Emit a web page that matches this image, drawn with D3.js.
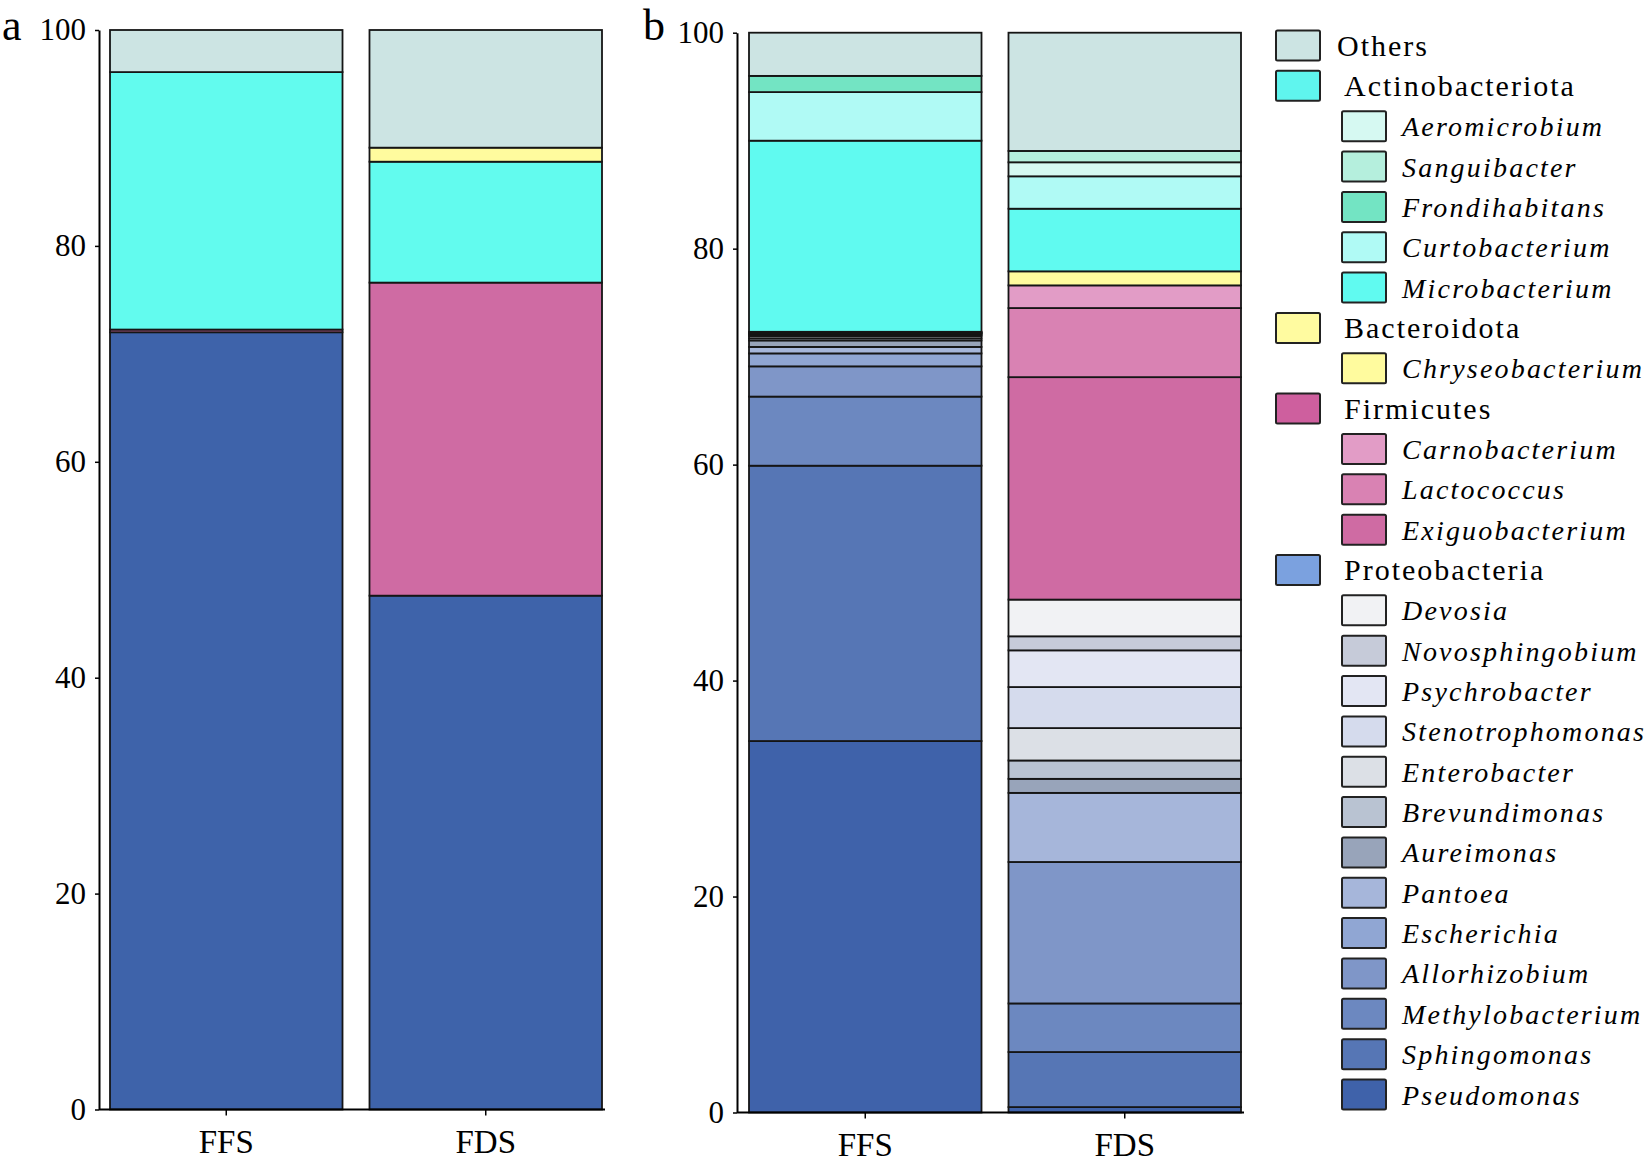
<!DOCTYPE html>
<html>
<head>
<meta charset="utf-8">
<script src="https://cdn.jsdelivr.net/npm/d3@7"></script>
<style>
  html, body { margin: 0; padding: 0; background: #fff; }
  svg { display: block; font-family: "Liberation Serif", "Times New Roman", serif; }
</style>
</head>
<body>
<svg id="chart" width="1652" height="1164"></svg>
<script>
// ---------------- DATA ----------------
const samples = ["FFS", "FDS"];
const yTicks = [0, 20, 40, 60, 80, 100];

// Panel a: phylum level, stacked bottom -> top
const phyla = ["Proteobacteria", "Firmicutes", "Actinobacteriota", "Bacteroidota", "Others"];
const phylumFFS = [72.0, 0.25, 23.85, 0, 3.9];
const phylumFDS = [47.6, 29.0, 11.2, 1.3, 10.9];
const phylumBarColors = ["#3E63AA", "#CF6BA3", "#62FBEE", "#FFFB9E", "#CCE4E3"];

// Panel b: genus level, stacked bottom -> top
const genera = ["Pseudomonas", "Sphingomonas", "Methylobacterium", "Allorhizobium", "Escherichia",
  "Pantoea", "Aureimonas", "Brevundimonas", "Enterobacter", "Stenotrophomonas", "Psychrobacter",
  "Novosphingobium", "Devosia", "Exiguobacterium", "Lactococcus", "Carnobacterium",
  "Chryseobacterium", "Microbacterium", "Curtobacterium", "Frondihabitans", "Aeromicrobium",
  "Sanguibacter", "Others"];
const genusFFS = [34.4, 25.5, 6.4, 2.8, 1.2, 0.6, 0.6, 0.2, 0.2, 0.1, 0.1, 0.05, 0.05,
  0.05, 0.05, 0, 0, 17.7, 4.5, 1.5, 0, 0, 4.0];
const genusFDS = [0.5, 5.1, 4.5, 13.1, 0, 6.4, 1.3, 1.7, 3.0, 3.8, 3.4, 1.3, 3.4,
  20.6, 6.4, 2.1, 1.3, 5.8, 3.0, 0, 1.3, 1.05, 10.95];
const genusColors = ["#3F62AA", "#5676B5", "#6C88C0", "#7F96C8", "#90A6D3",
  "#A6B6DA", "#98A4BA", "#B9C3D2", "#DCE0E6", "#D5DBED", "#E3E6F3",
  "#C6CBD9", "#F1F2F4", "#CF6BA3", "#D982B3", "#E29CC6",
  "#FFFB9E", "#60FAF0", "#B0FAF5", "#73E4C3", "#D6F9F2",
  "#B5EFDD", "#CCE4E3"];

// Legend (top -> bottom)
const legendItems = ["Others", "Actinobacteriota", "Aeromicrobium", "Sanguibacter", "Frondihabitans",
  "Curtobacterium", "Microbacterium", "Bacteroidota", "Chryseobacterium", "Firmicutes",
  "Carnobacterium", "Lactococcus", "Exiguobacterium", "Proteobacteria", "Devosia",
  "Novosphingobium", "Psychrobacter", "Stenotrophomonas", "Enterobacter", "Brevundimonas",
  "Aureimonas", "Pantoea", "Escherichia", "Allorhizobium", "Methylobacterium",
  "Sphingomonas", "Pseudomonas"];
const legendPhyla = ["Others", "Actinobacteriota", "Bacteroidota", "Firmicutes", "Proteobacteria"];
const legendPhylumColors = ["#CCE4E3", "#5FF5EE", "#FFFBA0", "#CE5F9E", "#7BA1DF"];

// ---------------- DRAW ----------------
const svg = d3.select("#chart");
const STROKE = "#151515";

function drawPanel(cfg, keys, ffs, fds, colors) {
  const g = svg.append("g");
  const rows = samples.map((s, i) => {
    const vals = i === 0 ? ffs : fds;
    const r = { sample: s };
    keys.forEach((k, j) => r[k] = vals[j]);
    return r;
  });
  const x = d3.scaleBand().domain(samples).range([cfg.x0, cfg.x1]).paddingInner(0.104).paddingOuter(0);
  const y = d3.scaleLinear().domain([0, 100]).range([cfg.yBot, cfg.yTop]);
  const color = d3.scaleOrdinal().domain(keys).range(colors);
  const series = d3.stack().keys(keys)(rows);

  series.forEach(layer => {
    g.append("g").selectAll("rect")
      .data(layer.filter(d => d[1] - d[0] > 0))
      .join("rect")
      .attr("x", d => x(d.data.sample))
      .attr("width", x.bandwidth())
      .attr("y", d => y(d[1]))
      .attr("height", d => y(d[0]) - y(d[1]))
      .attr("fill", color(layer.key))
      .attr("stroke", STROKE)
      .attr("stroke-width", 1.8);
  });

  // y axis
  const ya = g.append("g")
    .attr("transform", `translate(${cfg.axisX},0)`)
    .call(d3.axisLeft(y).tickValues(yTicks).tickSize(4).tickSizeOuter(0).tickPadding(9));
  ya.select(".domain").attr("stroke", "#000").attr("stroke-width", 2);
  ya.selectAll(".tick line").attr("stroke", "#000").attr("stroke-width", 1.5);
  ya.selectAll("text").attr("font-size", 31).attr("font-family", "Liberation Serif").attr("fill", "#000");

  // x axis
  const xa = g.append("g")
    .attr("transform", `translate(0,${cfg.yBot})`)
    .call(d3.axisBottom(x).tickSize(6).tickSizeOuter(0).tickPadding(14));
  xa.select(".domain").remove();
  xa.append("line").attr("x1", cfg.axisX).attr("x2", cfg.x1 + 3).attr("y1", 0).attr("y2", 0)
    .attr("stroke", "#000").attr("stroke-width", 2);
  xa.selectAll(".tick line").attr("stroke", "#000").attr("stroke-width", 1.5);
  xa.selectAll("text").attr("font-size", 33).attr("font-family", "Liberation Serif").attr("fill", "#000");

  svg.append("text").attr("x", cfg.labelX).attr("y", cfg.labelY)
    .attr("font-size", 44).attr("font-family", "Liberation Serif").text(cfg.label);
}

drawPanel({ x0: 110, x1: 602, yTop: 30, yBot: 1109.5, axisX: 99, label: "a", labelX: 2, labelY: 40 },
  phyla, phylumFFS, phylumFDS, phylumBarColors);
drawPanel({ x0: 749, x1: 1241, yTop: 32.7, yBot: 1112.5, axisX: 737, label: "b", labelX: 643, labelY: 40 },
  genera, genusFFS, genusFDS, genusColors);

// legend
const ly = d3.scalePoint().domain(legendItems).range([45.5, 1094.5]);
const genusColor = d3.scaleOrdinal().domain(genera).range(genusColors);
const phylumLegendColor = d3.scaleOrdinal().domain(legendPhyla).range(legendPhylumColors);
const lg = svg.append("g");
legendItems.forEach(name => {
  const isPhylum = legendPhyla.includes(name);
  const bx = isPhylum ? 1276 : 1342;
  const cy = ly(name);
  lg.append("rect")
    .attr("x", bx).attr("y", cy - 15).attr("width", 44).attr("height", 30)
    .attr("rx", 1.5)
    .attr("fill", isPhylum ? phylumLegendColor(name) : genusColor(name))
    .attr("stroke", "#222").attr("stroke-width", 2);
  lg.append("text")
    .attr("x", isPhylum ? (name === "Others" ? 1337 : 1344) : 1402)
    .attr("y", cy + 10)
    .attr("font-size", isPhylum ? 30 : 28)
    .attr("font-style", isPhylum ? "normal" : "italic")
    .attr("letter-spacing", isPhylum ? 2 : 2.2)
    .attr("font-family", "Liberation Serif")
    .attr("fill", "#000")
    .text(name);
});
</script>
</body>
</html>
